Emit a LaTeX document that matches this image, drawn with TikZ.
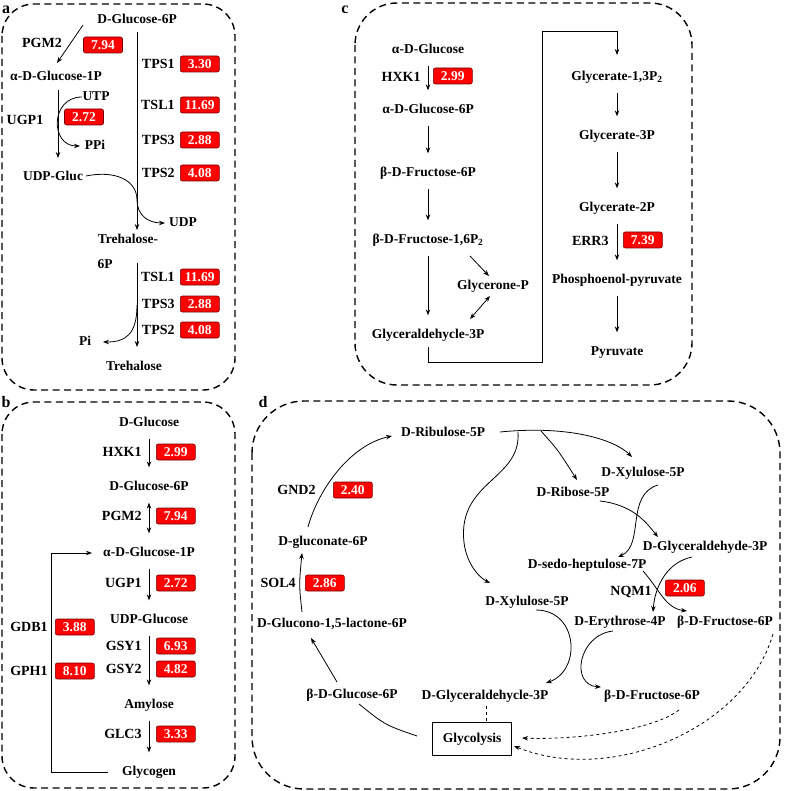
\documentclass[tikz,border=0pt]{standalone}
\usepackage{fontspec}
\setmainfont{Liberation Serif}
\usetikzlibrary{arrows.meta,calc}

\begin{document}
\begin{tikzpicture}[x=1pt,y=-1pt,line width=0.8pt,
  >={Stealth[length=6pt,width=4.5pt]},
  every node/.style={font=\bfseries\fontsize{13.5}{15}\selectfont},
  met/.style={inner sep=1pt,text height=9.5pt,text depth=3pt},
  enz/.style={font=\bfseries\fontsize{14}{16}\selectfont,inner sep=1pt},
  val/.style={draw=red!45!black,fill=red,rounded corners=2pt,text=white,line width=0.6pt,
    minimum width=39pt,minimum height=16pt,inner xsep=4pt,inner ysep=0pt},
  rx/.style={->,shorten <=8pt,shorten >=12pt},
  plabel/.style={font=\bfseries\fontsize{16}{18}\selectfont,inner sep=1pt},
  panel/.style={line width=1.4pt,dash pattern=on 7pt off 4.5pt}]
\useasboundingbox (0,0) rectangle (784,791);

\draw[panel,rounded corners=32pt] (2,4) rectangle (235,390);
\draw[panel,rounded corners=32pt] (2,402) rectangle (235,788);
\draw[panel,rounded corners=42pt] (355,3) rectangle (692,385);
\draw[panel,rounded corners=52pt] (252,401) rectangle (780,789);
\node[plabel] (la) at (6,10) {a};
\node[plabel] (lb) at (6,402) {b};
\node[plabel] (lc) at (345,10) {c};
\node[plabel] (ld) at (263,402) {d};

% a
\node[met] (g6pa) at (137,20) {D-Glucose-6P};
\node[met] (g1pa) at (56,77) {α-D-Glucose-1P};
\node[met] (utp) at (96,97) {UTP};
\node[met] (ppi) at (95,146) {PPi};
\node[met] (udpga) at (53,177) {UDP-Gluc};
\node[met] (udp) at (183,223) {UDP};
\node[met] (t6pa) at (128,240) {Trehalose-};
\node[met] (t6pb) at (105,265) {6P};
\node[met] (pi) at (85,342) {Pi};
\node[met] (treh) at (134,367) {Trehalose};

\node[enz] (apgm2) at (42,43) {PGM2};
\node[val] (avpgm2) at (103,45) {7.94};
\node[enz] (augp1) at (25,120) {UGP1};
\node[val] (avugp1) at (84,117) {2.72};
\foreach \e/\v/\y in {TPS1/3.30/64, TSL1/11.69/105, TPS3/2.88/140, TPS2/4.08/173,
                      TSL1/11.69/277, TPS3/2.88/304, TPS2/4.08/330}{
  \node[enz,anchor=east] (ae\y) at (176,\y) {\e};
  \node[val,anchor=west] (av\y) at (180,\y) {\v};}

\draw[->] ($(g6pa)+(-54,5)$) -- ($(g1pa)+(1,-14)$);
\draw[->] ($(g6pa)+(0,12)$) -- ($(t6pa)+(9,-10)$);
\draw[->] ($(g1pa)+(2,13)$) -- ($(udpga)+(5,-19)$);
\draw[->] ($(utp)+(-14,0)$) .. controls (50,97) and (50,146) .. ($(ppi)+(-15,0)$);
\draw[->] ($(udpga)+(33,-1)$) .. controls (115,170) and (137,180) .. (137,200)
  .. controls (137,215) and (148,223) .. ($(udp)+(-18,0)$);
\draw[->] ($(t6pa)+(9,23)$) -- ($(treh)+(3,-20)$);
\draw[->] ($(treh)+(3,-62)$) .. controls (137,335) and (125,342) .. ($(pi)+(18,0)$);

% b
\foreach \n/\t/\y in {glcb/D-Glucose/423, g6pb/D-Glucose-6P/487, g1pb/α-D-Glucose-1P/553,
                      udpgb/UDP-Glucose/620, amy/Amylose/705, glyc/Glycogen/772}
  \node[met] (\n) at (149,\y) {\t};

\foreach \e/\v/\y in {HXK1/2.99/452, PGM2/7.94/516, UGP1/2.72/583, GSY1/6.93/646,
                      GSY2/4.82/669, GLC3/3.33/734}{
  \node[enz,anchor=east] (b\e) at (143,\y) {\e};
  \node[val,anchor=west] (bv\e) at (156,\y) {\v};}
\foreach \e/\v/\y in {GDB1/3.88/627, GPH1/8.10/671}{
  \node[enz,anchor=east] (b\e) at (49,\y) {\e};
  \node[val,anchor=west] (bv\e) at (55,\y) {\v};}

\draw[rx] (glcb) -- (g6pb);
\draw[rx,<->] (g6pb) -- (g1pb);
\draw[rx] (g1pb) -- (udpgb);
\draw[rx] (udpgb) -- (amy);
\draw[rx] (amy) -- (glyc);
\draw[->] ($(glyc)+(-41,0)$) -- ++(-57,0) |- ($(g1pb)+(-57,0)$);

% c
\node[met] (agl) at (428,50) {α-D-Glucose};
\node[met] (ag6p) at (428,110) {α-D-Glucose-6P};
\node[met] (bf6p) at (428,173) {β-D-Fructose-6P};
\node[met] (fbp) at (428,240) {β-D-Fructose-1,6P\textsubscript{2}};
\node[met] (gnp) at (493,286) {Glycerone-P};
\node[met] (ga3p) at (428,335) {Glyceraldehycle-3P};
\node[met] (g13) at (617,77) {Glycerate-1,3P\textsubscript{2}};
\node[met] (g3p) at (617,136) {Glycerate-3P};
\node[met] (g2p) at (617,208) {Glycerate-2P};
\node[met] (pep) at (617,280) {Phosphoenol-pyruvate};
\node[met] (pyr) at (617,352) {Pyruvate};
\coordinate (cbr) at (542,362);

\node[enz,anchor=east] (chxk1) at (422,77) {HXK1};
\node[val,anchor=west] (cvhxk1) at (433,76) {2.99};
\node[enz,anchor=east] (cerr3) at (610,241) {ERR3};
\node[val,anchor=west] (cverr3) at (623,240) {7.39};

\draw[rx] (agl) -- (ag6p);
\draw[rx] (ag6p) -- (bf6p);
\draw[rx] (bf6p) -- (fbp);
\draw[rx] (fbp) -- (ga3p);
\draw[->] ($(fbp)+(42,16)$) -- ($(gnp)+(-4,-10)$);
\draw[<->] ($(gnp)+(-3,10)$) -- ($(ga3p)+(42,-16)$);
\draw[->] ($(ga3p)+(0,12)$) |- (cbr) |- ($(g13)+(0,-46)$) -- ($(g13)+(0,-22)$);
\draw[rx] (g13) -- (g3p);
\draw[rx] (g3p) -- (g2p);
\draw[rx] (g2p) -- (pep);
\draw[rx] (pep) -- (pyr);

% d
\node[met] (ru5p) at (443,433) {D-Ribulose-5P};
\node[met] (gl6p) at (323,542) {D-gluconate-6P};
\node[met] (glac) at (332,624) {D-Glucono-1,5-lactone-6P};
\node[met] (bg6p) at (352,695) {β-D-Glucose-6P};
\node[draw,minimum width=79pt,minimum height=33pt] (gly) at (472,739) {Glycolysis};
\node[met] (gap3d) at (485,696) {D-Glyceraldehycle-3P};
\node[met] (bf6pl) at (652,696) {β-D-Fructose-6P};
\node[met] (e4p) at (620,622) {D-Erythrose-4P};
\node[met] (bf6pu) at (725,622) {β-D-Fructose-6P};
\node[met] (x5pl) at (527,602) {D-Xylulose-5P};
\node[met] (x5pu) at (643,473) {D-Xylulose-5P};
\node[met] (r5p) at (573,493) {D-Ribose-5P};
\node[met] (gald) at (705,547) {D-Glyceraldehyde-3P};
\node[met] (s7p) at (587,565) {D-sedo-heptulose-7P};
\coordinate (rbr) at (541,431);
\coordinate (xbr) at (518,432);

\node[enz,anchor=east] (dgnd2) at (317,490) {GND2};
\node[val,anchor=west] (dvgnd2) at (333,490) {2.40};
\node[enz,anchor=east] (dsol4) at (297,583) {SOL4};
\node[val,anchor=west] (dvsol4) at (305,583) {2.86};
\node[enz,anchor=east] (dnqm1) at (653,592) {NQM1};
\node[val,anchor=west] (dvnqm1) at (665,588) {2.06};

\draw[->] ($(glac)+(-30,-12)$) .. controls (299,585) .. ($(gl6p)+(-21,11)$);
\draw[->] ($(gl6p)+(-15,-15)$) .. controls (318,490) and (350,445) .. ($(ru5p)+(-51,3)$);
\draw[->] ($(bg6p)+(-15,-13)$) .. controls (327,665) .. ($(glac)+(-21,14)$);
\draw ($(bg6p)+(7,9)$) .. controls (385,725) .. ($(gly)+(-55,-3)$);
\draw[dashed] ($(gap3d)+(1,10)$) -- ($(gly.north)+(14,0)$);
\draw[dashed,->] ($(bf6pl)+(27,14)$) .. controls (650,732) and (570,740) .. ($(gly)+(50,-1)$);
\draw[dashed,->] ($(bf6pu)+(48,12)$) .. controls (745,730) and (610,785) .. ($(gly)+(42,7)$);
\draw[->] ($(x5pl)+(9,8)$) .. controls (578,610) and (582,670) .. ($(gap3d)+(61,-13)$);
\draw[->] ($(e4p)+(-7,9)$) .. controls (578,635) and (570,685) .. ($(bf6pl)+(-51,-9)$);

\draw[->] ($(ru5p)+(57,-1)$) .. controls (570,425) and (615,440) .. ($(x5pu)+(-11,-16)$);
\draw[->] (rbr) .. controls (558,450) .. ($(r5p)+(4,-13)$);
\draw[->] (xbr) .. controls (521,475) and (470,480) .. (464,525)
  .. controls (460,560) and (480,578) .. ($(x5pl)+(-37,-19)$);
\draw[->] ($(r5p)+(27,8)$) .. controls (635,505) and (648,525) .. ($(gald)+(-47,-10)$);
\draw[->] ($(x5pu)+(15,12)$) .. controls (625,495) and (645,545) .. ($(s7p)+(31,-8)$);
\draw[->] ($(gald)+(-13,10)$) .. controls (668,562) and (655,585) .. ($(e4p)+(33,-10)$);
\draw[->] ($(s7p)+(56,6)$) .. controls (660,590) and (665,608) .. ($(bf6pu)+(-38,-11)$);
\end{tikzpicture}
\end{document}
